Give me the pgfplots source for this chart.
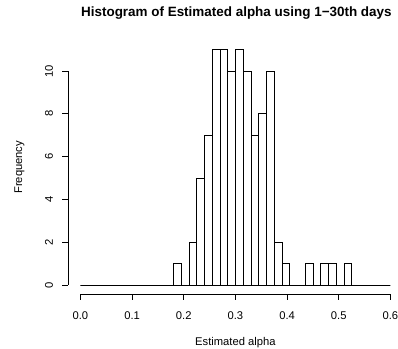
\documentclass[border=0pt]{standalone}
\usepackage{pgfplots}
\pgfplotsset{compat=1.18}
\usepackage{fontspec}
\setmainfont{Liberation Sans}
\begin{document}
\begin{tikzpicture}
\begin{axis}[
  at={(0,0)}, anchor=south west,
  scale only axis, width=334.8bp, height=254bp,
  xmin=-0.024, xmax=0.624, ymin=-0.44, ymax=11.44,
  clip=false,
  axis x line*=bottom, axis y line*=left,
  axis line style={draw=none},
  xtick={0,0.1,0.2,0.3,0.4,0.5,0.6},
  ytick={0,2,4,6,8,10},
  tick align=outside, major tick length=5.5bp,
  tick style={black, line width=0.7bp},
  /pgf/number format/assume math mode=true,
  xticklabel={\pgfmathprintnumber[fixed,fixed zerofill,precision=1]{\tick}},
  ticklabel style={font=\fontsize{11.25}{13.5}\selectfont},
  xticklabel style={anchor=north, yshift=-8bp},
  yticklabel style={rotate=90, anchor=south, yshift=6bp},
]
\addplot[ybar interval, draw=black, fill=white, line width=0.7bp] table {
x y
0.000 0
0.015 0
0.030 0
0.045 0
0.060 0
0.075 0
0.090 0
0.105 0
0.120 0
0.135 0
0.150 0
0.165 0
0.180 1
0.195 0
0.210 2
0.225 5
0.240 7
0.255 11
0.270 11
0.285 10
0.300 11
0.315 10
0.330 7
0.345 8
0.360 10
0.375 2
0.390 1
0.405 0
0.420 0
0.435 1
0.450 0
0.465 1
0.480 1
0.495 0
0.510 1
0.525 0
0.540 0
0.555 0
0.570 0
0.585 0
0.600 0
};
\draw[line width=0.7bp] (axis cs:0,-0.44) -- (axis cs:0.6,-0.44);
\draw[line width=0.7bp] (axis cs:-0.024,0) -- (axis cs:-0.024,10);
\node[font=\bfseries\fontsize{13.5}{16}\selectfont, anchor=base, inner sep=0pt] at ([xshift=1bp, yshift=277.8bp]rel axis cs:0.5,0) {Histogram of Estimated alpha using 1−30th days};
\node[font=\fontsize{11.25}{13.5}\selectfont, anchor=base, inner sep=0pt] at ([yshift=-50.7bp]rel axis cs:0.5,0) {Estimated alpha};
\node[font=\fontsize{11.25}{13.5}\selectfont, rotate=90, anchor=center] at ([xshift=-48.5bp]rel axis cs:0,0.5) {Frequency};
\end{axis}
\pgfresetboundingbox
\useasboundingbox (-68bp,-54.7bp) rectangle (330bp,294.3bp);
\end{tikzpicture}
\end{document}
